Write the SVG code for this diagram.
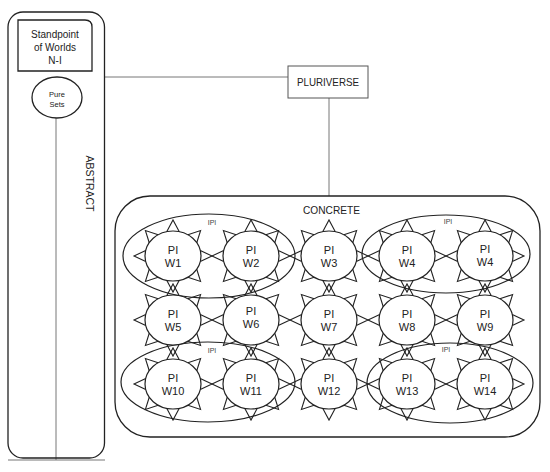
<svg xmlns="http://www.w3.org/2000/svg" xmlns:xlink="http://www.w3.org/1999/xlink" width="550" height="472" viewBox="0 0 550 472">
<style>
text{font-family:"Liberation Sans",Arial,sans-serif;fill:#222}
.box{fill:none;stroke:#222;stroke-width:1.3}
.con{stroke:#777;stroke-width:1;fill:none}
.pi{fill:#fff;stroke:#222;stroke-width:1.2}
.sp{fill:none;stroke:#222;stroke-width:1.1;stroke-linejoin:miter}
.ipi{fill:none;stroke:#222;stroke-width:1.2}
.lbl{font-size:11px;text-anchor:middle}
.small{font-size:7px;text-anchor:middle;fill:#444}
</style>
<defs>
<g id="world">
<path class="sp" d="M27.28,-5.62 L39,0 L27.28,5.62 M23.75,13.25 L27.58,25.46 L14.84,21.2 M6.3,24.36 L0,36 L-6.3,24.36 M-14.84,21.2 L-27.58,25.46 L-23.75,13.25 M-27.28,5.62 L-39,0 L-27.28,-5.62 M-23.75,-13.25 L-27.58,-25.46 L-14.84,-21.2 M-6.3,-24.36 L0,-36 L6.3,-24.36 M14.84,-21.2 L27.58,-25.46 L23.75,-13.25"/>
<ellipse class="pi" cx="0" cy="0" rx="28" ry="25"/>
</g>
</defs>
<rect width="550" height="472" fill="#fff"/>

<g id="connectors">
<line class="con" x1="105" y1="77" x2="288" y2="77"/>
<line class="con" x1="329" y1="98" x2="329" y2="196"/>
<line class="con" x1="56" y1="118" x2="56" y2="460"/>
<line class="con" x1="8" y1="460" x2="105" y2="460" stroke="#999" stroke-width="1.5"/>
</g>

<g id="abstract">
<rect class="box" x="8" y="12" width="96.5" height="446" rx="15"/>
<text font-size="10.5" transform="translate(86,183.5) rotate(90)" text-anchor="middle">ABSTRACT</text>
</g>

<g id="standpoint">
<path class="box" d="M18,20 H85 Q92,20 92,27 V71 H18 Z"/>
<text class="lbl" x="55" y="38" style="font-size:10px">Standpoint</text>
<text class="lbl" x="55" y="51" style="font-size:10px">of Worlds</text>
<text class="lbl" x="55" y="64" style="font-size:10px">N-I</text>
</g>

<g id="puresets">
<ellipse class="box" cx="57" cy="97.5" rx="25" ry="20.5" fill="#fff"/>
<text class="small" x="57" y="96.5" style="fill:#222;font-size:7.5px">Pure</text>
<text class="small" x="57" y="107" style="fill:#222;font-size:7.5px">Sets</text>
</g>

<g id="pluriverse">
<rect x="288" y="66" width="80" height="32" fill="#fff" stroke="#555" stroke-width="1"/>
<text x="328" y="86" text-anchor="middle" font-size="11.5" textLength="62" lengthAdjust="spacingAndGlyphs">PLURIVERSE</text>
</g>

<g id="concrete">
<rect class="box" x="115" y="196" width="425" height="241" rx="35"/>
<text x="331.5" y="214" text-anchor="middle" font-size="11.5" textLength="57" lengthAdjust="spacingAndGlyphs">CONCRETE</text>
</g>

<g id="ipi1"><ellipse class="ipi" cx="209" cy="256" rx="86" ry="42"/><text class="small" x="212" y="225">IPI</text></g>
<g id="ipi2"><ellipse class="ipi" cx="446" cy="254" rx="84" ry="39"/><text class="small" x="448" y="224">IPI</text></g>
<g id="ipi3"><ellipse class="ipi" cx="208" cy="382" rx="87" ry="40"/><text class="small" x="212" y="353">IPI</text></g>
<g id="ipi4"><ellipse class="ipi" cx="450" cy="383" rx="83" ry="40"/><text class="small" x="446" y="352">IPI</text></g>

<g id="w1"><use xlink:href="#world" x="173" y="256"/><text class="lbl" x="173" y="254">PI</text><text class="lbl" x="173" y="267">W1</text></g>
<g id="w2"><use xlink:href="#world" x="251" y="256"/><text class="lbl" x="251" y="254">PI</text><text class="lbl" x="251" y="267">W2</text></g>
<g id="w3"><use xlink:href="#world" x="329" y="256"/><text class="lbl" x="329" y="254">PI</text><text class="lbl" x="329" y="267">W3</text></g>
<g id="w4"><use xlink:href="#world" x="407" y="256"/><text class="lbl" x="407" y="254">PI</text><text class="lbl" x="407" y="267">W4</text></g>
<g id="w4b"><use xlink:href="#world" x="485" y="256"/><text class="lbl" x="485" y="253">PI</text><text class="lbl" x="485" y="266">W4</text></g>

<g id="w5"><use xlink:href="#world" x="173" y="320"/><text class="lbl" x="173" y="318">PI</text><text class="lbl" x="173" y="331">W5</text></g>
<g id="w6"><use xlink:href="#world" x="251" y="320"/><text class="lbl" x="251" y="315">PI</text><text class="lbl" x="251" y="328">W6</text></g>
<g id="w7"><use xlink:href="#world" x="329" y="320"/><text class="lbl" x="329" y="318">PI</text><text class="lbl" x="329" y="331">W7</text></g>
<g id="w8"><use xlink:href="#world" x="407" y="320"/><text class="lbl" x="407" y="318">PI</text><text class="lbl" x="407" y="331">W8</text></g>
<g id="w9"><use xlink:href="#world" x="485" y="320"/><text class="lbl" x="485" y="318">PI</text><text class="lbl" x="485" y="331">W9</text></g>

<g id="w10"><use xlink:href="#world" x="173" y="384"/><text class="lbl" x="173" y="382">PI</text><text class="lbl" x="173" y="395">W10</text></g>
<g id="w11"><use xlink:href="#world" x="251" y="384"/><text class="lbl" x="251" y="382">PI</text><text class="lbl" x="251" y="395">W11</text></g>
<g id="w12"><use xlink:href="#world" x="329" y="384"/><text class="lbl" x="329" y="382">PI</text><text class="lbl" x="329" y="395">W12</text></g>
<g id="w13"><use xlink:href="#world" x="407" y="384"/><text class="lbl" x="407" y="382">PI</text><text class="lbl" x="407" y="395">W13</text></g>
<g id="w14"><use xlink:href="#world" x="485" y="384"/><text class="lbl" x="485" y="382">PI</text><text class="lbl" x="485" y="395">W14</text></g>
</svg>
